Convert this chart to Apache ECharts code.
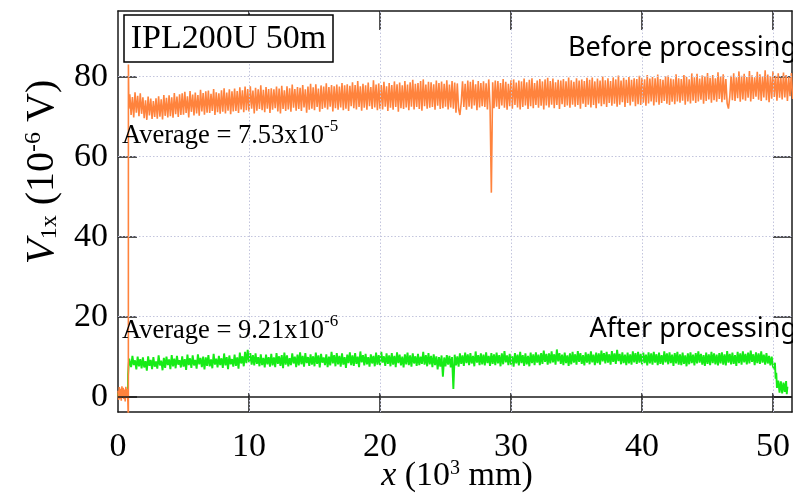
<!DOCTYPE html>
<html><head><meta charset="utf-8">
<script src="https://cdn.jsdelivr.net/npm/echarts@6/dist/echarts.min.js"></script>
<style>html,body{margin:0;padding:0;background:#fff}#c{width:793px;height:495px}</style>
</head><body><div id="c"></div>
<script>
// ---- axes / ticks ----
const xTickValues = [10, 20, 30, 40, 50];
const xLabelValues = [0, 10, 20, 30, 40, 50];
const yTickValues = [0, 20, 40, 60, 80];
const yGridValues = [20, 40, 60, 80];
const xRange = [0, 51.45];
const yRange = [-3.83, 96.4];

// ---- Before processing (orange) ----
const orangeHeadX = [0.0, 0.05, 0.1, 0.15, 0.2, 0.25, 0.3, 0.35, 0.4, 0.45, 0.5, 0.55, 0.6, 0.65, 0.7, 0.75, 0.79, 0.795, 0.83];
const orangeHeadY = [1.5, -0.8, 2.4, -0.5, 2.0, -1.0, 2.6, 0.0, 2.2, -0.6, 1.8, -1.2, 2.5, -0.3, 2.0, -0.9, -6.0, 83.0, 72.0];
const orangeBandStart = 0.9, orangeBandStep = 0.1;
const orangeBand = [
75.6,70.4,74.9,69.8,76.1,71.0,75.2,70.1,75.8,70.7,
74.8,69.6,74.1,69.2,75.0,70.3,74.5,69.4,73.9,69.9,
74.6,69.5,75.1,70.0,74.3,69.3,75.4,70.2,74.7,69.8,
75.3,70.1,74.8,69.7,75.9,70.6,75.0,69.9,75.6,70.4,
75.8,70.5,76.2,70.9,75.1,69.8,76.4,71.2,75.5,70.3,
76.0,70.8,75.4,70.2,76.7,71.3,75.9,70.5,76.3,71.0,
76.5,70.9,75.7,71.4,76.9,70.4,76.1,71.1,75.8,70.7,
76.6,71.2,77.1,70.8,76.0,71.5,76.8,70.6,76.3,71.3,
77.0,71.4,76.4,70.9,77.3,71.8,76.6,71.1,77.5,71.6,
76.9,71.3,77.6,72.0,76.5,70.8,77.2,71.5,76.8,71.9,
77.8,71.6,76.7,71.1,77.4,72.0,76.9,70.9,77.1,71.7,
76.8,72.1,77.5,71.3,77.0,70.8,77.7,71.9,76.6,71.4,
77.6,71.8,77.1,71.2,78.0,72.2,76.9,71.5,77.4,71.9,
77.2,71.4,77.9,72.3,76.8,71.0,77.5,71.7,78.2,72.0,
77.3,71.6,78.1,72.4,77.0,71.2,77.8,71.9,77.5,72.2,
78.3,71.8,77.4,72.5,77.9,71.3,77.6,72.1,78.0,71.7,
77.5,72.3,78.4,71.6,77.8,72.0,78.1,71.4,77.7,72.6,
78.6,72.1,77.9,71.8,78.9,72.4,77.6,71.5,78.2,72.2,
77.8,71.7,78.5,72.6,77.4,71.9,79.1,72.3,78.0,71.6,
78.3,72.0,77.9,71.8,78.7,72.5,77.6,71.4,78.4,72.2,
77.9,71.7,78.8,72.4,78.1,71.2,78.5,72.1,77.8,71.9,
78.9,72.3,78.0,71.6,78.6,72.5,79.2,71.8,78.2,72.4,
78.4,71.9,78.9,71.5,79.3,72.6,78.0,72.0,78.7,72.2,
78.6,72.4,78.1,71.7,79.0,72.7,78.4,71.9,78.8,72.1,
78.2,72.5,79.1,71.8,78.0,72.3,78.9,72.0,78.5,71.0,
78.3,71.9,70.4,73.5,78.8,72.4,78.2,71.7,79.0,72.5,
78.7,72.0,79.2,72.8,78.1,71.6,78.9,72.3,78.4,72.6,
78.8,72.4,78.3,71.8,79.3,72.7,51.0,78.6,72.1,79.0,
72.5,78.9,71.9,78.4,72.8,79.4,72.2,78.7,71.7,78.2,
72.6,79.1,72.0,79.3,72.9,78.5,72.3,79.0,71.8,78.8,
72.4,79.5,72.8,78.6,71.9,79.2,72.6,79.6,72.1,78.4,
72.9,79.0,72.2,79.4,72.7,78.8,71.8,79.3,72.8,79.7,
72.3,78.9,73.0,79.5,72.1,78.6,72.9,79.2,71.9,79.0,
73.1,79.4,72.4,78.8,72.8,79.8,72.2,79.1,73.0,78.7,
72.5,79.6,72.9,79.0,72.0,79.3,73.2,78.9,72.4,79.7,
73.0,79.2,72.3,79.8,72.9,78.8,72.1,79.5,73.3,79.0,
72.6,80.0,73.1,79.1,72.4,79.6,73.4,78.9,72.7,79.8,
73.2,79.3,72.5,80.3,73.0,79.0,73.6,79.7,72.4,79.2,
73.4,79.9,72.8,79.2,73.7,79.6,72.6,79.4,73.1,80.2,
72.9,79.7,73.5,79.3,72.7,80.4,73.3,79.5,73.8,79.9,
72.8,79.6,73.6,80.5,73.0,79.4,73.4,79.2,73.9,80.1,
73.2,80.3,72.9,79.5,73.7,79.3,73.1,80.6,73.8,79.6,
73.5,79.4,74.0,80.4,73.0,79.9,73.8,79.3,73.3,80.8,
74.0,79.8,73.4,80.7,73.8,79.5,74.2,80.3,73.2,80.0,
73.9,80.9,74.3,79.7,73.5,80.4,74.1,79.6,73.7,81.1,
74.4,80.1,73.6,80.6,74.2,79.4,73.3,72.0,74.9,80.2,
74.1,80.8,73.9,79.8,74.6,81.3,73.7,80.2,74.3,80.7,
74.0,79.9,74.7,81.4,73.8,80.3,74.4,79.8,75.0,81.2,
74.2,80.6,73.9,80.0,74.8,81.6,74.1,80.5,73.6,80.1,
74.5,81.3,74.9,80.2,74.0,80.8,74.7,79.7,74.3,81.0,
74.8,80.4,73.9,79.9,75.1,80.9,74.4
];

// ---- After processing (green) ----
const greenHeadX = [0.0, 0.1, 0.2, 0.3, 0.4, 0.5, 0.6, 0.7, 0.76, 0.77, 0.8, 0.85];
const greenHeadY = [0.8, -0.3, 1.2, 0.2, 1.0, -0.2, 0.9, 0.3, 1.0, 5.5, 7.2, 9.5];
const greenBandStart = 0.9, greenBandStep = 0.1;
const greenBand = [
9.6,7.4,10.2,7.9,9.1,6.8,10.0,7.6,9.4,7.1,
9.8,7.3,8.9,6.5,10.1,7.7,9.2,6.9,9.9,7.5,
8.8,7.0,10.3,7.8,9.0,6.6,9.7,7.2,10.0,7.9,
9.3,6.9,10.4,7.6,9.5,7.1,10.2,8.0,9.1,7.3,
10.1,7.5,9.4,6.7,10.5,7.9,9.6,7.2,10.3,7.8,
9.2,7.0,10.6,8.1,9.7,7.4,10.0,6.8,9.8,7.7,
10.4,7.6,9.3,7.1,10.7,8.0,9.5,7.3,10.2,7.9,
9.6,7.2,10.8,7.8,9.9,6.9,10.3,8.1,9.4,7.5,
10.5,7.7,9.8,7.0,11.0,8.3,10.1,7.6,11.2,8.4,
11.7,8.6,10.9,8.0,10.4,7.8,10.8,8.2,9.9,7.6,
10.6,7.9,9.7,7.3,10.5,8.1,9.9,7.5,10.7,7.8,
9.8,7.4,10.9,8.2,10.1,7.7,10.4,7.1,11.0,8.0,
10.3,7.6,9.6,7.9,10.8,8.3,10.0,7.4,10.5,7.8,
11.1,8.1,10.2,7.5,10.9,8.4,9.9,7.7,10.6,8.0,
10.1,7.6,11.0,8.2,10.3,7.3,10.7,8.5,9.8,7.9,
10.6,7.4,10.0,7.8,11.2,8.3,10.4,7.6,10.9,8.1,
10.2,7.5,10.8,8.0,9.9,7.2,10.5,8.4,11.1,7.9,
10.3,7.7,10.9,8.2,10.0,7.4,11.3,8.6,10.4,7.8,
10.7,8.1,9.9,7.5,10.6,8.3,10.2,7.6,11.0,8.0,
10.4,7.9,11.2,8.5,10.1,7.7,10.8,8.2,10.3,7.6,
10.9,8.0,10.2,7.4,11.1,8.4,10.5,7.8,10.0,7.3,
10.6,8.1,11.0,7.9,10.3,7.5,10.8,8.3,10.1,7.7,
10.7,7.9,10.0,8.2,11.2,8.0,10.4,7.6,10.9,8.1,
10.2,7.4,10.6,7.9,10.1,6.8,9.9,7.5,10.3,5.0,
9.8,7.6,10.4,8.0,10.2,7.3,9.9,1.9,10.5,7.8,
10.1,7.5,10.8,8.2,10.3,7.7,11.0,8.4,10.6,7.9,
10.9,8.3,10.2,7.6,11.3,8.5,10.4,7.9,10.8,8.1,
10.5,7.8,11.1,8.4,10.2,7.7,10.9,8.2,10.6,7.9,
11.0,8.3,10.4,7.6,10.8,8.1,11.4,8.6,10.3,7.9,
10.7,8.0,10.1,7.5,10.9,8.3,10.5,7.8,11.2,8.4,
10.4,7.7,10.8,8.1,10.2,7.6,11.0,8.4,10.6,7.9,
11.1,8.5,10.5,7.9,10.9,8.2,11.5,8.7,10.7,8.0,
10.8,8.3,11.3,8.6,10.6,8.0,11.8,8.8,10.9,8.2,
10.5,7.9,11.0,8.4,10.3,7.7,10.8,8.1,11.2,8.5,
10.6,8.0,11.4,8.7,10.9,8.2,10.4,7.8,11.1,8.5,
10.7,8.1,11.3,8.6,10.5,7.9,11.0,8.4,10.8,8.0,
11.5,8.8,10.9,8.3,11.2,8.5,10.6,8.0,11.4,8.7,
10.8,8.2,11.7,8.9,10.7,8.1,11.1,8.4,10.5,7.9,
11.0,8.3,10.6,8.0,11.3,8.6,10.9,8.2,11.2,8.5,
10.7,8.1,11.0,8.4,10.5,7.8,11.1,8.3,10.8,8.0,
11.2,8.5,10.6,7.9,11.0,8.2,10.4,8.0,11.3,8.6,
10.8,8.1,11.1,8.4,10.5,7.7,10.9,8.3,11.2,8.0,
10.6,7.9,11.0,8.2,10.3,7.6,10.8,8.1,11.1,8.4,
10.5,7.8,10.9,8.3,11.3,8.5,10.7,8.0,10.4,7.7,
11.0,8.2,10.6,7.9,11.2,8.4,10.8,8.1,10.5,7.8,
10.9,8.3,11.1,8.0,10.6,7.8,11.4,8.5,10.7,8.1,
11.0,8.2,10.4,7.7,11.2,8.4,10.8,8.0,11.3,8.6,
10.7,8.1,11.0,8.3,11.5,8.7,10.6,7.9,11.1,8.4,
10.8,8.2,11.3,8.5,10.5,8.0,10.9,8.3,10.2,7.8,
10.0,7.5
];
const greenTailX = [50.1, 50.15, 50.2, 50.25, 50.3, 50.4, 50.5, 50.6, 50.7, 50.8, 50.9, 51.0, 51.05, 51.1];
const greenTailY = [6.8, 8.5, 4.5, 6.0, 2.2, 4.0, 1.0, 3.8, 0.8, 3.5, 1.2, 3.9, 0.6, 2.5];

function pairs(xs, ys) { return xs.map((x, i) => [x, ys[i]]); }
function band(start, step, ys) { return ys.map((y, i) => [Math.round((start + i * step) * 1000) / 1000, y]); }

const orangeData = pairs(orangeHeadX, orangeHeadY).concat(band(orangeBandStart, orangeBandStep, orangeBand));
const greenData = pairs(greenHeadX, greenHeadY).concat(band(greenBandStart, greenBandStep, greenBand)).concat(pairs(greenTailX, greenTailY));

const SERIF = "'Liberation Serif','Times New Roman',serif";
const SANS = "'Noto Sans','DejaVu Sans',sans-serif";
const frame = { color: '#1a1a1a', width: 1.5 };
const gridStyle = { color: '#c3c5dd', width: 1, type: [1.5, 2] };

const chart = echarts.init(document.getElementById('c'), null, { renderer: 'canvas' });

const xAxisBase = {
  type: 'value', min: xRange[0], max: xRange[1],
  axisLine: { show: true, onZero: false, lineStyle: frame },
  axisTick: { show: true, inside: true, length: 19, customValues: xTickValues, lineStyle: frame },
  splitLine: { show: false }
};
const yAxisBase = {
  type: 'value', min: yRange[0], max: yRange[1],
  axisLine: { show: true, onZero: false, lineStyle: frame },
  axisTick: { show: true, inside: true, length: 19, customValues: yTickValues, lineStyle: frame },
  splitLine: { show: false }
};

const option = {
  animation: false,
  backgroundColor: '#fff',
  grid: { left: 118, right: 1, top: 11, bottom: 83, containLabel: false, outerBoundsMode: 'none' },
  xAxis: [
    Object.assign({}, xAxisBase, { position: 'bottom',
      axisLabel: { show: true, customValues: xLabelValues, fontFamily: SERIF, fontSize: 34, color: '#000', margin: 18 } }),
    Object.assign({}, xAxisBase, { position: 'top', axisLabel: { show: false } })
  ],
  yAxis: [
    Object.assign({}, yAxisBase, { position: 'left',
      axisLabel: { show: true, customValues: yTickValues, fontFamily: SERIF, fontSize: 34, color: '#000', margin: 10 } }),
    Object.assign({}, yAxisBase, { position: 'right', axisLabel: { show: false } })
  ],
  series: [
    {
      type: 'line', data: [], z: 1, silent: true,
      markLine: {
        silent: true, symbol: ['none', 'none'], label: { show: false },
        animation: false,
        data: yGridValues.map(v => ({ yAxis: v, lineStyle: gridStyle }))
          .concat(xTickValues.map(v => ({ xAxis: v, lineStyle: gridStyle })))
          .concat([{ yAxis: 0, lineStyle: { color: '#1a1a1a', width: 1.5, type: 'solid' } }])
      }
    },
    {
      name: 'After processing', type: 'line', data: greenData, z: 3,
      showSymbol: false, symbol: 'none', sampling: null, clip: true,
      lineStyle: { color: '#16eb16', width: 1.9 }, emphasis: { disabled: true }
    },
    {
      name: 'Before processing', type: 'line', data: orangeData, z: 4,
      showSymbol: false, symbol: 'none', sampling: null, clip: true,
      lineStyle: { color: '#ff833d', width: 1.6 }, emphasis: { disabled: true }
    }
  ],
  graphic: [
    { type: 'rect', z: 20, shape: { x: 124, y: 15, width: 209, height: 47 },
      style: { fill: '#fff', stroke: '#000', lineWidth: 1.5 } },
    { type: 'text', z: 21, x: 228.5, y: 39,
      style: { text: 'IPL200U 50m', font: '34px ' + SERIF, fill: '#000', align: 'center', verticalAlign: 'middle', textAlign: 'center', textVerticalAlign: 'middle' } },
    { type: 'text', z: 21, x: 797, y: 48,
      style: { text: 'Before processing', font: '27px ' + SANS, fill: '#000', align: 'right', verticalAlign: 'middle', textAlign: 'right', textVerticalAlign: 'middle' } },
    { type: 'text', z: 21, x: 797, y: 329,
      style: { text: 'After processing', font: '27px ' + SANS, fill: '#000', align: 'right', verticalAlign: 'middle', textAlign: 'right', textVerticalAlign: 'middle' } },
    { type: 'text', z: 21, x: 122, y: 136,
      style: { text: '{n|Average = 7.53x10}{s|-5}', fill: '#000', align: 'left', verticalAlign: 'middle', textAlign: 'left', textVerticalAlign: 'middle',
        rich: { n: { fontFamily: SERIF, fontSize: 26.5, lineHeight: 36, color: '#000' },
                s: { fontFamily: SERIF, fontSize: 17, lineHeight: 18, verticalAlign: 'top', color: '#000' } } } },
    { type: 'text', z: 21, x: 122, y: 331,
      style: { text: '{n|Average = 9.21x10}{s|-6}', fill: '#000', align: 'left', verticalAlign: 'middle', textAlign: 'left', textVerticalAlign: 'middle',
        rich: { n: { fontFamily: SERIF, fontSize: 26.5, lineHeight: 36, color: '#000' },
                s: { fontFamily: SERIF, fontSize: 17, lineHeight: 18, verticalAlign: 'top', color: '#000' } } } },
    { type: 'text', z: 21, x: 457, y: 476,
      style: { text: '{i|x}{n| (10}{s|3}{n| mm)}', fill: '#000', align: 'center', verticalAlign: 'middle', textAlign: 'center', textVerticalAlign: 'middle',
        rich: { i: { fontFamily: SERIF, fontSize: 34, fontStyle: 'italic', lineHeight: 34, color: '#000' },
                n: { fontFamily: SERIF, fontSize: 34, lineHeight: 34, color: '#000' },
                s: { fontFamily: SERIF, fontSize: 20, lineHeight: 24, verticalAlign: 'top', color: '#000' } } } },
    { type: 'text', z: 21, x: 42, y: 172, rotation: Math.PI / 2,
      style: { text: '{i|V}{b|1x}{n| (10}{s|-6}{n| V)}', fill: '#000', align: 'center', verticalAlign: 'middle', textAlign: 'center', textVerticalAlign: 'middle',
        rich: { i: { fontFamily: SERIF, fontSize: 41, fontStyle: 'italic', lineHeight: 40, color: '#000' },
                n: { fontFamily: SERIF, fontSize: 40, lineHeight: 40, color: '#000' },
                b: { fontFamily: SERIF, fontSize: 24, lineHeight: 22, verticalAlign: 'bottom', color: '#000' },
                s: { fontFamily: SERIF, fontSize: 24, lineHeight: 28, verticalAlign: 'top', color: '#000' } } } }
  ]
};
chart.setOption(option);
</script>
</body></html>
